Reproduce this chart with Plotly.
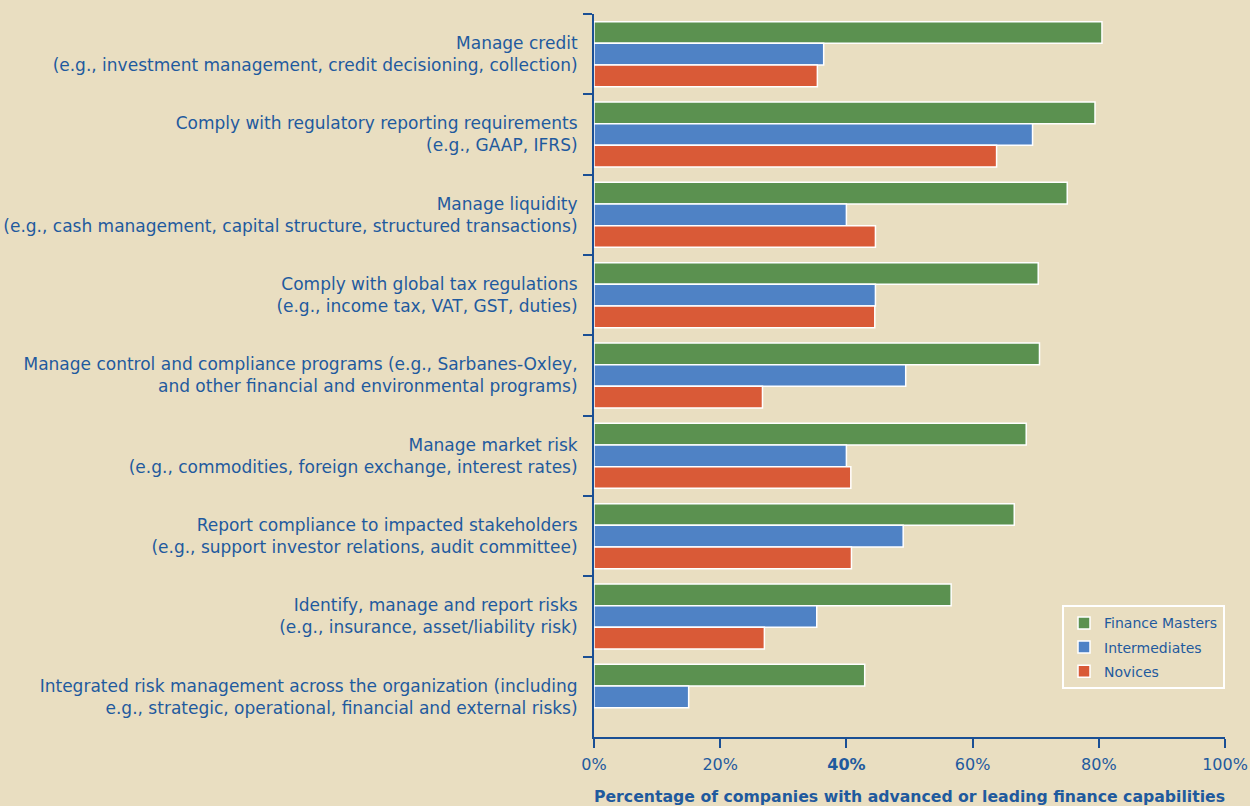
import plotly.graph_objects as go

categories = [
    "Manage credit<br>(e.g., investment management, credit decisioning, collection)",
    "Comply with regulatory reporting requirements<br>(e.g., GAAP, IFRS)",
    "Manage liquidity<br>(e.g., cash management, capital structure, structured transactions)",
    "Comply with global tax regulations<br>(e.g., income tax, VAT, GST, duties)",
    "Manage control and compliance programs (e.g., Sarbanes-Oxley,<br>and other financial and environmental programs)",
    "Manage market risk<br>(e.g., commodities, foreign exchange, interest rates)",
    "Report compliance to impacted stakeholders<br>(e.g., support investor relations, audit committee)",
    "Identify, manage and report risks<br>(e.g., insurance, asset/liability risk)",
    "Integrated risk management across the organization (including<br>e.g., strategic, operational, financial and external risks)",
]
finance_masters = [80.5, 79.4, 75.0, 70.4, 70.6, 68.5, 66.6, 56.6, 42.9]
intermediates = [36.4, 69.5, 40.0, 44.6, 49.4, 40.0, 49.0, 35.3, 15.0]
novices = [35.4, 63.8, 44.6, 44.5, 26.7, 40.7, 40.8, 27.0, None]

tick_vals = [0, 20, 40, 60, 80, 100]
tick_text = ["0%", "20%", "<b>40%</b>", "60%", "80%", "100%"]

series = [
    ("Finance Masters", finance_masters, "#5B9150"),
    ("Intermediates", intermediates, "#4F82C5"),
    ("Novices", novices, "#D95A37"),
]

BG = "#E9DEC1"
TXT = "#1F5A9E"
AX = "#1A4F94"
FONT = "DejaVu Sans"

fig = go.Figure()
for name, vals, col in series:
    fig.add_trace(go.Bar(
        y=categories, x=vals, name=name, orientation="h", legendgroup=name,
        marker=dict(color=col, line=dict(color="white", width=1.5)),
    ))

fig.update_layout(
    width=1250, height=806,
    paper_bgcolor=BG, plot_bgcolor=BG,
    barmode="group", bargap=0.19, bargroupgap=0.0,
    margin=dict(l=594, r=25, t=14, b=69, autoexpand=False),
    font=dict(family=FONT, color=TXT, size=17),
    legend=dict(
        x=1.0, xanchor="right", y=0.066, yanchor="bottom",
        bgcolor=BG, bordercolor="white", borderwidth=2,
        font=dict(family=FONT, size=14, color=TXT), traceorder="grouped",
        tracegroupgap=3,
    ),
    showlegend=True,
)
fig.update_yaxes(
    type="category", autorange="reversed",
    tickson="boundaries", ticks="outside", ticklen=9, tickwidth=2, tickcolor=AX,
    showline=True, linecolor=AX, linewidth=2, showgrid=False,
    tickfont=dict(family=FONT, size=17, color=TXT), ticklabelstandoff=11,
)
fig.update_xaxes(
    range=[0, 100], tickvals=tick_vals, ticktext=tick_text,
    ticks="outside", ticklen=9, tickwidth=2, tickcolor=AX,
    showline=True, linecolor=AX, linewidth=2, showgrid=False, zeroline=False,
    tickfont=dict(family=FONT, size=16, color=TXT), ticklabelstandoff=3,
    title=dict(text="<b>Percentage of companies with advanced or leading finance capabilities</b>",
               font=dict(family=FONT, size=15.7, color=TXT), standoff=18),
)

fig.write_html("out.html", config={"displayModeBar": False},
               post_script="document.body.style.margin='0';document.body.style.background='%s';" % BG)
